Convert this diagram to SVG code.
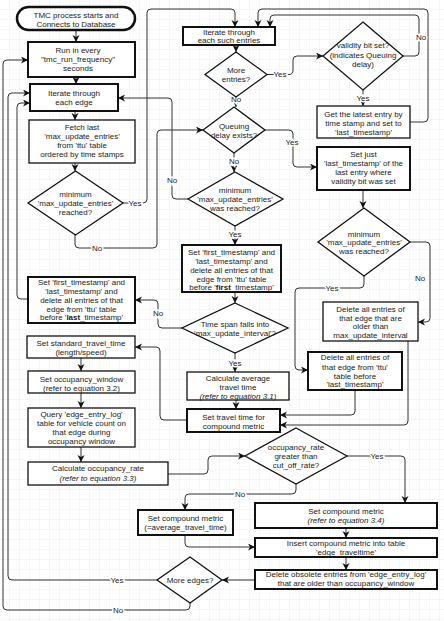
<svg xmlns="http://www.w3.org/2000/svg" width="444" height="621" viewBox="0 0 444 621">
<defs>
<pattern id="grid" width="10" height="10" patternUnits="userSpaceOnUse">
<path d="M10,0 V10 M0,10 H10" fill="none" stroke="#ececec" stroke-width="1"/>
</pattern>
<marker id="arr" markerWidth="8" markerHeight="8" refX="7" refY="3.5" orient="auto" markerUnits="userSpaceOnUse">
<path d="M0,0 L7,3.5 L0,7 L2,3.5 Z" fill="#111"/>
</marker>
<style>
text{font-family:"Liberation Sans",Arial,sans-serif;font-size:8px;fill:#222;text-anchor:middle;}
.thick{fill:#fff;stroke:#111;stroke-width:2;}
.thin{fill:#fff;stroke:#111;stroke-width:1.3;}
.dia{fill:#fff;stroke:#111;stroke-width:1.3;}
.e{fill:none;stroke:#333;stroke-width:1;marker-end:url(#arr);}
.ne{fill:none;stroke:#333;stroke-width:1;}
.lbl{stroke:#fff;stroke-width:3;paint-order:stroke;}
.it{font-style:italic;}
</style>
</defs>
<rect width="444" height="621" fill="#fff"/>
<rect width="444" height="621" fill="url(#grid)"/>

<g id="connectors">
<path class="e" d="M76,30 V42"/>
<path class="e" d="M76,77 V84"/>
<path class="e" d="M75,111 V120"/>
<path class="e" d="M75,163 V171"/>
<path class="e" d="M123,203 H143 Q147,203 147,199 V13 Q147,9 151,9 H231 Q235,9 235,13 V27"/>
<path class="e" d="M75,235 V244 Q75,248 79,248 H153 Q157,248 157,244 V134 Q157,130 161,130 H203"/>
<path class="e" d="M236,45 V52"/>
<path class="e" d="M267,74.5 H289 Q293,74.5 293,70 V60 Q293,56 297,56 H323"/>
<path class="e" d="M236,97 V107"/>
<path class="e" d="M363,90 V106"/>
<path class="e" d="M403,56 H415 Q419,56 419,52 V19 Q419,15 415,15 H274 Q270,15 270,19 V27"/>
<path class="e" d="M410,122 H424 Q428,122 428,118 V13 Q428,9 424,9 H262 Q258,9 258,13 V27"/>
<path class="e" d="M265,130 H289 Q293,130 293,134 V163 Q293,167 297,167 H317"/>
<path class="e" d="M234,153 V172"/>
<path class="e" d="M188,199 H176 Q172,199 172,195 V102 Q172,98 168,98 H118"/>
<path class="e" d="M235,226 V245"/>
<path class="e" d="M235,292 V303"/>
<path class="e" d="M182,328 H162 Q158,328 158,324 V304 Q158,300 154,300 H135"/>
<path class="e" d="M235,353 V372"/>
<path class="e" d="M236,400 V409"/>
<path class="e" d="M363,190 V208"/>
<path class="e" d="M410,242 H426 Q430,242 430,246 V318 Q430,322 426,322 H418"/>
<path class="e" d="M364,276 V284 Q364,288 360,288 H299 Q295,288 295,292 V366 Q295,370 299,370 H308"/>
<path class="e" d="M355,390 V411 Q355,415 351,415 H280"/>
<path class="e" d="M408,341 V421 Q408,425 404,425 H280"/>
<path class="e" d="M187,420 H164 Q160,420 160,416 V351 Q160,347 156,347 H135"/>
<path class="e" d="M81,358 V371"/>
<path class="e" d="M81,393 V408"/>
<path class="e" d="M81,447 V462"/>
<path class="e" d="M168,474 H204 Q208,474 208,470 V460 Q208,456 212,456 H245"/>
<path class="e" d="M347,456 H401 Q405,456 405,460 V503"/>
<path class="e" d="M296,484 V490 Q296,494 292,494 H189 Q185,494 185,498 V510"/>
<path class="e" d="M185,535 V543 Q185,547 189,547 H255"/>
<path class="e" d="M346,528 V538"/>
<path class="e" d="M346,557 V570"/>
<path class="e" d="M255,580 H222"/>
<path class="e" d="M157,580 H12 Q8,580 8,576 V97 Q8,93 12,93 H30"/>
<path class="e" d="M190,603 V606 Q190,610 186,610 H7 Q3,610 3,606 V64 Q3,60 7,60 H28"/>
<path class="e" d="M28,299 H21 Q17,299 17,295 V107 Q17,103 21,103 H30"/>
<text class="lbl" x="135" y="206">Yes</text>
<text class="lbl" x="97" y="251">No</text>
<text class="lbl" x="280" y="77">Yes</text>
<text class="lbl" x="236" y="102">No</text>
<text class="lbl" x="363" y="101">Yes</text>
<text class="lbl" x="421" y="40">No</text>
<text class="lbl" x="292" y="145">Yes</text>
<text class="lbl" x="234" y="164">No</text>
<text class="lbl" x="172" y="183">No</text>
<text class="lbl" x="235" y="237">Yes</text>
<text class="lbl" x="158" y="316">No</text>
<text class="lbl" x="235" y="366">Yes</text>
<text class="lbl" x="420" y="281">No</text>
<text class="lbl" x="332" y="291">Yes</text>
<text class="lbl" x="377" y="459">Yes</text>
<text class="lbl" x="240" y="497">No</text>
<text class="lbl" x="117" y="583">Yes</text>
<text class="lbl" x="118" y="613">No</text>
</g>

<g id="start">
<rect x="17" y="7" width="118" height="23" rx="11.5" fill="#fff" stroke="#111" stroke-width="2.5"/>
<text x="76" y="18">TMC process starts and</text>
<text x="76" y="27">Connects to Database</text>
</g>
<g id="run">
<rect class="thick" x="28" y="42" width="107" height="35"/>
<text x="78" y="53">Run in every</text>
<text x="78" y="62">"tmc_run_frequency"</text>
<text x="78" y="71">seconds</text>
</g>
<g id="iterate-edge">
<rect class="thick" x="30" y="84" width="88" height="27"/>
<text x="74" y="96">Iterate through</text>
<text x="74" y="105">each edge</text>
</g>
<g id="fetch">
<rect class="thin" x="29" y="120" width="106" height="43"/>
<text x="82" y="130">Fetch last</text>
<text x="82" y="139">'max_update_entries'</text>
<text x="82" y="148">from 'ttu' table</text>
<text x="82" y="157">ordered by time stamps</text>
</g>
<g id="min-reached-1">
<polygon class="dia" points="75.5,171 123,203 75.5,235 28,203"/>
<text x="75.5" y="197">minimum</text>
<text x="75.5" y="206">'max_update_entries'</text>
<text x="75.5" y="215">reached?</text>
</g>
<g id="iterate-entries">
<rect class="thick" x="183" y="27" width="92" height="18"/>
<text x="229" y="35">Iterate through</text>
<text x="229" y="43">each such entries</text>
</g>
<g id="more-entries">
<polygon class="dia" points="236,52 267,74.5 236,97 205,74.5"/>
<text x="236" y="73">More</text>
<text x="236" y="82">entries?</text>
</g>
<g id="queuing">
<polygon class="dia" points="234,107 265,130 234,153 203,130"/>
<text x="234" y="129">Queuing</text>
<text x="234" y="138">delay exists?</text>
</g>
<g id="min-reached-2">
<polygon class="dia" points="235,172 283,199 235,226 188,199"/>
<text x="235" y="193">minimum</text>
<text x="235" y="202">'max_update_entries'</text>
<text x="235" y="211">was reached?</text>
</g>
<g id="set-first-center">
<rect class="thick" x="182" y="245" width="99" height="47"/>
<text x="231.5" y="255">Set 'first_timestamp' and</text>
<text x="231.5" y="264">'last_timestamp' and</text>
<text x="231.5" y="273">delete all entries of that</text>
<text x="231.5" y="282">edge from 'ttu' table</text>
<text x="231.5" y="290">before '<tspan font-weight="bold">first</tspan>_timestamp'</text>
</g>
<g id="time-span">
<polygon class="dia" points="235,303 288,328 235,353 182,328"/>
<text x="235" y="327">Time span falls into</text>
<text x="235" y="336">'max_update_interval'?</text>
</g>
<g id="calc-avg">
<rect class="thin" x="187" y="372" width="102" height="28"/>
<text x="238" y="381">Calculate average</text>
<text x="238" y="390">travel time</text>
<text class="it" x="238" y="399">(refer to equation 3.1)</text>
</g>
<g id="set-travel">
<rect class="thick" x="187" y="409" width="93" height="23"/>
<text x="233.5" y="420">Set travel time for</text>
<text x="233.5" y="429">compound metric</text>
</g>
<g id="validity">
<polygon class="dia" points="363,22 403,56 363,90 323,56"/>
<text x="363" y="48">validity bit set?</text>
<text x="363" y="58">(indicates Queuing</text>
<text x="363" y="67">delay)</text>
</g>
<g id="get-latest">
<rect class="thin" x="317" y="106" width="93" height="32"/>
<text x="363.5" y="117">Get the latest entry by</text>
<text x="363.5" y="126">time stamp and set to</text>
<text x="363.5" y="135">'last_timestamp'</text>
</g>
<g id="set-just">
<rect class="thick" x="317" y="147" width="93" height="43"/>
<text x="363.5" y="157">Set just</text>
<text x="363.5" y="166">'last_timestamp' of the</text>
<text x="363.5" y="175">last entry where</text>
<text x="363.5" y="184">validity bit was set</text>
</g>
<g id="min-reached-3">
<polygon class="dia" points="364,208 410,242 364,276 318,242"/>
<text x="364" y="237">minimum</text>
<text x="364" y="245">'max_update_entries'</text>
<text x="364" y="254">was reached?</text>
</g>
<g id="delete-older">
<rect class="thin" x="323" y="302" width="95" height="39"/>
<text x="370.5" y="312">Delete all entries of</text>
<text x="370.5" y="320.5">that edge that are</text>
<text x="370.5" y="329">older than</text>
<text x="370.5" y="337.5">max_update_interval</text>
</g>
<g id="delete-ttu">
<rect class="thick" x="308" y="352" width="94" height="38"/>
<text x="355" y="360">Delete all entries of</text>
<text x="355" y="370">that edge from 'ttu'</text>
<text x="355" y="379">table before</text>
<text x="355" y="387">'last_timestamp'</text>
</g>
<g id="set-first-left">
<rect class="thick" x="28" y="277" width="107" height="46"/>
<text x="81.5" y="285">Set 'first_timestamp' and</text>
<text x="81.5" y="294">'last_timestamp' and</text>
<text x="81.5" y="303">delete all entries of that</text>
<text x="81.5" y="312">edge from 'ttu' table</text>
<text x="81.5" y="320">before '<tspan font-weight="bold">last</tspan>_timestamp'</text>
</g>
<g id="set-standard">
<rect class="thin" x="27" y="336" width="108" height="22"/>
<text x="81" y="346">Set standard_travel_time</text>
<text x="81" y="355">(length/speed)</text>
</g>
<g id="set-occupancy-window">
<rect class="thin" x="28" y="371" width="107" height="22"/>
<text x="81.5" y="382">Set occupancy_window</text>
<text x="81.5" y="391">(refer to equation 3.2)</text>
</g>
<g id="query">
<rect class="thin" x="28" y="408" width="107" height="39"/>
<text x="81.5" y="417">Query 'edge_entry_log'</text>
<text x="81.5" y="426">table for vehicle count on</text>
<text x="81.5" y="435">that edge during</text>
<text x="81.5" y="444">occupancy window</text>
</g>
<g id="calc-occupancy">
<rect class="thin" x="28" y="462" width="140" height="23"/>
<text x="98" y="471">Calculate occupancy_rate</text>
<text class="it" x="98" y="481">(refer to equation 3.3)</text>
</g>
<g id="occupancy-check">
<polygon class="dia" points="296,428 347,456 296,484 245,456"/>
<text x="296" y="450">occupancy_rate</text>
<text x="296" y="459">greater than</text>
<text x="296" y="468">cut_off_rate?</text>
</g>
<g id="set-compound-avg">
<rect class="thick" x="138" y="510" width="95" height="25"/>
<text x="185.5" y="521">Set compound metric</text>
<text x="185.5" y="530">(=average_travel_time)</text>
</g>
<g id="set-compound-34">
<rect class="thick" x="255" y="503" width="182" height="25"/>
<text x="346" y="514">Set compound metric</text>
<text class="it" x="346" y="523">(refer to equation 3.4)</text>
</g>
<g id="insert">
<rect class="thick" x="255" y="538" width="182" height="19"/>
<text x="346" y="546">Insert compound metric into table</text>
<text x="346" y="555">'edge_traveltime'</text>
</g>
<g id="delete-obsolete">
<rect class="thick" x="255" y="570" width="182" height="19"/>
<text x="346" y="577">Delete obsolete entries from 'edge_entry_log'</text>
<text x="346" y="586">that are older than occupancy_window</text>
</g>
<g id="more-edges">
<polygon class="dia" points="190,557 222,580 190,603 157,580"/>
<text x="190" y="583">More edges?</text>
</g>
</svg>
